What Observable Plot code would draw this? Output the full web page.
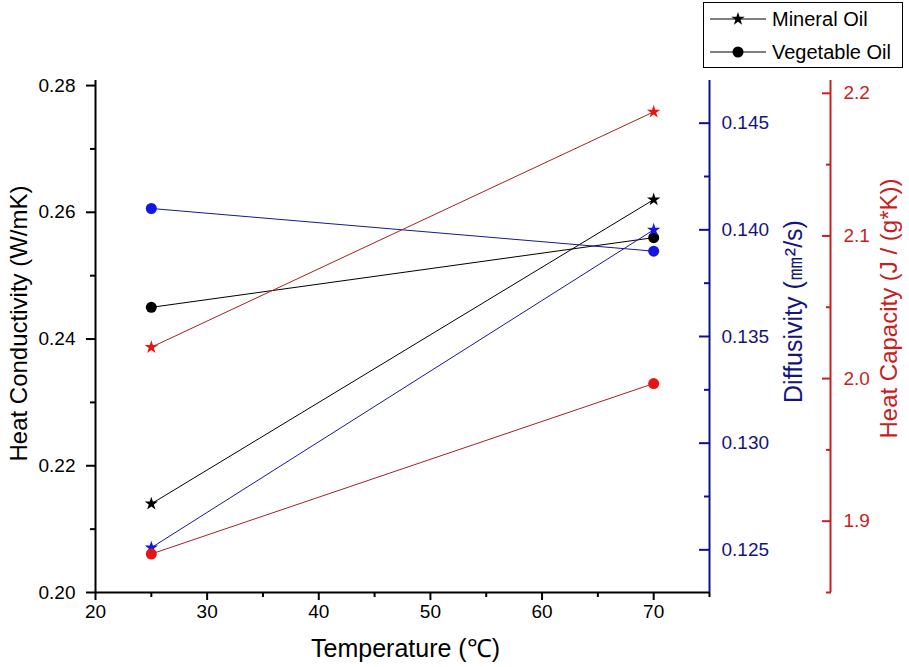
<!DOCTYPE html>
<html><head><meta charset="utf-8">
<script src="https://cdn.jsdelivr.net/npm/d3@7"></script>
<script src="https://cdn.jsdelivr.net/npm/@observablehq/plot@0.6"></script>
<style>
body{margin:0;background:#fff;}
#wrap{position:relative;width:909px;height:667px;font-family:"Liberation Sans",Arial,sans-serif;}
#legend{position:absolute;left:703px;top:2px;width:198px;height:64px;border:1px solid #000;background:#fff;}
</style></head><body><div id="wrap"><div id="legend"></div></div>
<script>
// ---- data ----
const temps = [25, 70];
const mineralCond = [0.214, 0.262];
const vegCond = [0.245, 0.256];
const mineralDiff = [0.1251, 0.1400];
const vegDiff = [0.1410, 0.1390];
const mineralCap = [2.022, 2.187];
const vegCap = [1.877, 1.9965];

const condDomain = [0.20, 0.2808];
const diffDomain = [0.123, 0.147];
const capDomain = [1.85, 2.209];
const xTicks = [20, 30, 40, 50, 60, 70];
const xMinor = [25, 35, 45, 55, 65, 75];
const condTicks = [0.20, 0.22, 0.24, 0.26, 0.28];
const condMinor = [0.21, 0.23, 0.25, 0.27];
const diffTicks = [0.125, 0.130, 0.135, 0.140, 0.145];
const diffMinor = [0.1275, 0.1325, 0.1375, 0.1425];
const capTicks = [1.9, 2.0, 2.1, 2.2];
const capMinor = [1.85, 1.95, 2.05, 2.15];
const seriesNames = ["Mineral Oil", "Vegetable Oil"];

// ---- colours ----
const BLUE_AX = "#10108a", BLUE_TXT = "#14147e", BLUE_PT = "#1414e6", BLUE_LN = "#181890";
const RED_AX = "#c42020", RED_TXT = "#c81e1e", RED_PT = "#e81414", RED_LN = "#a82020";
const FONT = "'Liberation Sans', Arial, sans-serif";

// map secondary axes into primary y space
const toCond = dom => v => condDomain[0] + (v - dom[0]) / (dom[1] - dom[0]) * (condDomain[1] - condDomain[0]);
const fromCond = dom => c => dom[0] + (c - condDomain[0]) / (condDomain[1] - condDomain[0]) * (dom[1] - dom[0]);
const fDiff = toCond(diffDomain), fCap = toCond(capDomain);
const iDiff = fromCond(diffDomain), iCap = fromCond(capDomain);

const rows = (vals, f) => temps.map((t, i) => ({t, v: f(vals[i])}));
const id = v => v;
const mCond = rows(mineralCond, id), vCond = rows(vegCond, id);
const mDiff = rows(mineralDiff, fDiff), vDiff = rows(vegDiff, fDiff);
const mCap = rows(mineralCap, fCap), vCap = rows(vegCap, fCap);

const RED_OFF = 121;

const chart = Plot.plot({
  width: 909, height: 667,
  marginLeft: 95, marginRight: 200, marginTop: 80, marginBottom: 75,
  style: {fontFamily: FONT, background: "white", color: "#000"},
  x: {domain: [20, 75]},
  y: {domain: condDomain},
  marks: [
    // axis lines
    Plot.ruleY([condDomain[0]], {stroke: "#000", strokeWidth: 2}),
    Plot.ruleX([20], {stroke: "#000", strokeWidth: 2}),
    Plot.ruleX([75], {stroke: BLUE_AX, strokeWidth: 2}),
    Plot.ruleX([75], {stroke: RED_AX, strokeWidth: 2, dx: RED_OFF}),
    // x axis
    Plot.axisX(xTicks, {tickSize: 8, tickPadding: 4, strokeWidth: 2, fontSize: 19, tickFormat: d => String(d), label: null}),
    Plot.axisX(xMinor, {tickSize: 5, strokeWidth: 2, fill: "none", label: null}),
    // left axis
    Plot.axisY(condTicks, {anchor: "left", tickSize: 9, tickPadding: 11, strokeWidth: 2, fontSize: 19, tickFormat: d => d.toFixed(2), label: null}),
    Plot.axisY(condMinor, {anchor: "left", tickSize: 5, strokeWidth: 2, fill: "none", label: null}),
    // blue axis (diffusivity)
    Plot.axisY(diffTicks.map(fDiff), {anchor: "right", tickSize: 11, dx: -11, strokeWidth: 2, stroke: BLUE_AX, fill: "none", label: null}),
    Plot.axisY(diffMinor.map(fDiff), {anchor: "right", tickSize: 6, dx: -6, strokeWidth: 2, stroke: BLUE_AX, fill: "none", label: null}),
    Plot.axisY(diffTicks.map(fDiff), {anchor: "right", tickSize: 0, tickPadding: 12, fill: BLUE_TXT, fontSize: 19, tickFormat: d => iDiff(d).toFixed(3), label: null}),
    // red axis (heat capacity)
    Plot.axisY(capTicks.map(fCap), {anchor: "right", tickSize: 9, dx: RED_OFF - 9, strokeWidth: 2, stroke: RED_AX, fill: "none", label: null}),
    Plot.axisY(capMinor.map(fCap), {anchor: "right", tickSize: 5, dx: RED_OFF - 5, strokeWidth: 2, stroke: RED_AX, fill: "none", label: null}),
    Plot.axisY(capTicks.map(fCap), {anchor: "right", tickSize: 0, tickPadding: 13, dx: RED_OFF, fill: RED_TXT, fontSize: 19, tickFormat: d => iCap(d).toFixed(1), label: null}),
    // axis titles
    Plot.text(["Heat Conductivity (W/mK)"], {text: d => d, frameAnchor: "left", textAnchor: "middle", lineAnchor: "middle", dx: -76, dy: -13, rotate: -90, fontSize: 24, fill: "#000"}),
    Plot.text(["Diffusivity (㎜²/s)"], {text: d => d, frameAnchor: "right", textAnchor: "middle", lineAnchor: "middle", dx: 84, dy: -25, rotate: -90, fontSize: 25, fill: BLUE_TXT}),
    Plot.text(["Heat Capacity (J / (g*K))"], {text: d => d, frameAnchor: "right", textAnchor: "middle", lineAnchor: "middle", dx: 180, dy: -28, rotate: -90, fontSize: 24, fill: RED_TXT}),
    Plot.text(["Temperature (℃)"], {text: d => d, frameAnchor: "bottom", textAnchor: "middle", lineAnchor: "middle", dx: 3, dy: 56, fontSize: 25, fill: "#000"}),
    // data: conductivity (black)
    Plot.line(mCond, {x: "t", y: "v", stroke: "#000", strokeWidth: 1}),
    Plot.line(vCond, {x: "t", y: "v", stroke: "#000", strokeWidth: 1}),
    Plot.dot(mCond, {x: "t", y: "v", symbol: "star", r: 4.2, fill: "#000", stroke: "none"}),
    Plot.dot(vCond, {x: "t", y: "v", symbol: "circle", r: 5.5, fill: "#000", stroke: "none"}),
    // diffusivity (blue)
    Plot.line(mDiff, {x: "t", y: "v", stroke: BLUE_LN, strokeWidth: 1}),
    Plot.line(vDiff, {x: "t", y: "v", stroke: BLUE_LN, strokeWidth: 1}),
    Plot.dot(mDiff, {x: "t", y: "v", symbol: "star", r: 4.2, fill: BLUE_PT, stroke: "none"}),
    Plot.dot(vDiff, {x: "t", y: "v", symbol: "circle", r: 5.5, fill: BLUE_PT, stroke: "none"}),
    // heat capacity (red)
    Plot.line(mCap, {x: "t", y: "v", stroke: RED_LN, strokeWidth: 1}),
    Plot.line(vCap, {x: "t", y: "v", stroke: RED_LN, strokeWidth: 1}),
    Plot.dot(mCap, {x: "t", y: "v", symbol: "star", r: 4.2, fill: RED_PT, stroke: "none"}),
    Plot.dot(vCap, {x: "t", y: "v", symbol: "circle", r: 5.5, fill: RED_PT, stroke: "none"})
  ]
});
document.getElementById("wrap").insertBefore(chart, document.getElementById("legend"));

// ---- legend ----
const lsvg = d3.select("#legend").append("svg").attr("width", 198).attr("height", 64);
const symbols = [d3.symbol(d3.symbolStar, 55), d3.symbol(d3.symbolCircle, 95)];
seriesNames.forEach((name, i) => {
  const y = 16 + i * 33;
  const g = lsvg.append("g");
  g.append("line").attr("x1", 6).attr("x2", 62).attr("y1", y).attr("y2", y).attr("stroke", "#000").attr("stroke-width", 1);
  g.append("path").attr("d", symbols[i]()).attr("transform", `translate(34,${y})`).attr("fill", "#000");
  g.append("text").attr("x", 68).attr("y", y).attr("dy", "0.35em").attr("font-size", 20)
    .attr("font-family", FONT).text(name);
});
</script>
</body></html>
